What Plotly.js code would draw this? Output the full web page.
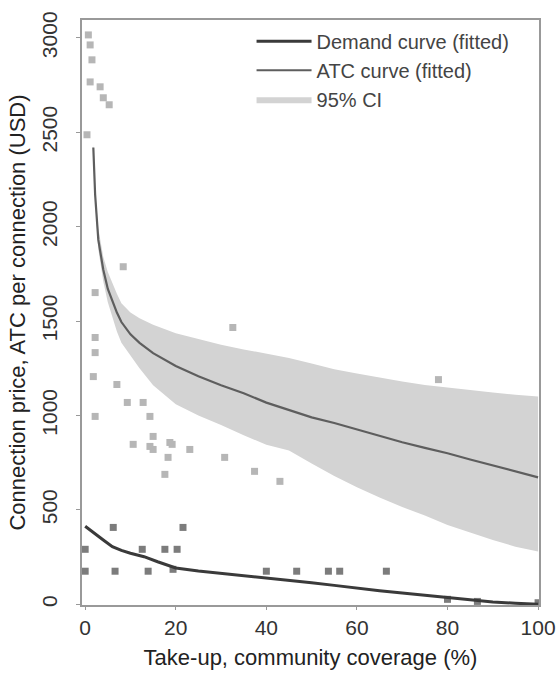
<!DOCTYPE html>
<html>
<head>
<meta charset="utf-8">
<script src="https://cdn.plot.ly/plotly-3.0.1.min.js"></script>
<style>
  html, body { margin: 0; padding: 0; background: #fff; }
  #chart { width: 556px; height: 681px; }
</style>
</head>
<body>
<div id="chart"></div>
<script>
// Fitted ATC (average total cost) curve, USD per connection vs take-up (%)
const atcX = [1.8, 2.2, 2.9, 4, 5, 6, 7, 8, 10, 12, 15, 20, 25, 30, 35, 40, 45, 50, 55, 60, 65, 70, 75, 80, 85, 90, 95, 100];
const atcY = [2420, 2170, 1930, 1772, 1670, 1605, 1545, 1495, 1430, 1385, 1330, 1262, 1208, 1160, 1118, 1068, 1030, 990, 960, 925, 890, 858, 828, 800, 767, 735, 705, 672];

// 95% confidence band around the ATC curve
const ciUpper = [2440, 2200, 1990, 1840, 1760, 1700, 1645, 1595, 1545, 1515, 1480, 1435, 1405, 1375, 1350, 1328, 1305, 1275, 1245, 1222, 1200, 1180, 1162, 1148, 1135, 1122, 1110, 1100];
const ciLower = [2400, 2140, 1880, 1710, 1600, 1520, 1445, 1385, 1320, 1250, 1160, 1060, 1000, 950, 895, 845, 815, 745, 680, 620, 565, 515, 470, 420, 380, 340, 305, 280];

// Fitted demand curve
const demandX = [0, 2, 4, 6, 8, 10, 13, 16, 20, 25, 30, 35, 40, 45, 50, 55, 60, 65, 70, 75, 80, 85, 90, 95, 100];
const demandY = [413, 375, 340, 305, 285, 270, 252, 225, 192, 176, 164, 153, 140, 128, 114, 100, 85, 72, 60, 47, 35, 22, 12, 5, 0];

// Observed per-connection costs
const costX = [0.7, 1.1, 1.5, 1.1, 3.3, 4.0, 5.3, 0.4, 8.4, 2.2, 2.2, 2.2, 1.8, 7.0, 2.2, 9.3, 12.8, 14.3, 15.0, 10.6, 19.2, 14.3, 18.3, 23.1, 17.6, 30.8, 37.4, 43.0, 32.6, 78.0, 15.0, 18.7];
const costY = [3016, 2963, 2884, 2767, 2741, 2683, 2646, 2487, 1788, 1651, 1413, 1333, 1206, 1164, 995, 1069, 1069, 995, 889, 847, 847, 836, 778, 820, 688, 778, 704, 651, 1466, 1190, 820, 857];

// Observed connection prices (willingness to pay)
const priceX = [6.2, 21.6, 0, 12.6, 17.6, 20.3, 0, 6.6, 13.9, 19.4, 40.0, 46.7, 53.7, 56.2, 66.5, 80.0, 86.6, 100];
const priceY = [407, 407, 291, 291, 291, 291, 175, 175, 175, 185, 175, 175, 175, 175, 175, 26, 15, 8];

const font = "Liberation Sans, Arial, sans-serif";

const traces = [
  {
    x: atcX, y: ciLower, type: 'scatter', mode: 'lines',
    line: { width: 0, color: 'rgba(0,0,0,0)' },
    showlegend: false, hoverinfo: 'skip'
  },
  {
    x: atcX, y: ciUpper, type: 'scatter', mode: 'lines',
    fill: 'tonexty', fillcolor: '#d3d3d3',
    line: { width: 0, color: 'rgba(0,0,0,0)' },
    name: '95% CI', legendrank: 3, legendgroup: 'c'
  },
  {
    x: costX, y: costY, type: 'scatter', mode: 'markers',
    marker: { symbol: 'square', size: 7, color: '#b6b6b6' },
    showlegend: false
  },
  {
    x: priceX, y: priceY, type: 'scatter', mode: 'markers',
    marker: { symbol: 'square', size: 7, color: '#7c7c7c' },
    showlegend: false
  },
  {
    x: atcX, y: atcY, type: 'scatter', mode: 'lines',
    line: { color: '#5e5e5e', width: 2.2 },
    name: 'ATC curve (fitted)', legendrank: 2, legendgroup: 'b'
  },
  {
    x: demandX, y: demandY, type: 'scatter', mode: 'lines',
    line: { color: '#3a3a3a', width: 3 },
    name: 'Demand curve (fitted)', legendrank: 1, legendgroup: 'a'
  }
];

const layout = {
  width: 556, height: 681,
  margin: { l: 82, r: 17, t: 20, b: 76 },
  paper_bgcolor: '#fff', plot_bgcolor: '#fff',
  font: { family: font, size: 20, color: '#333' },
  showlegend: true,
  legend: {
    x: 0.371, y: 0.997, xanchor: 'left', yanchor: 'top',
    bgcolor: 'rgba(0,0,0,0)', font: { size: 20, color: '#444' },
    traceorder: 'grouped', tracegroupgap: 0, itemwidth: 55
  },
  xaxis: {
    range: [-0.7, 100.2],
    tickvals: [0, 20, 40, 60, 80, 100],
    ticks: 'outside', ticklen: 3, tickcolor: '#999',
    ticklabelstandoff: 0,
    showline: true, linecolor: '#999', linewidth: 2, mirror: true,
    showgrid: false, zeroline: false,
    tickfont: { size: 21, color: '#333' },
    title: { text: 'Take-up, community coverage (%)', font: { size: 22, color: '#222' }, standoff: 11 }
  },
  yaxis: {
    range: [-4, 3095],
    tickvals: [0, 500, 1000, 1500, 2000, 2500, 3000],
    tickangle: -90,
    ticks: 'outside', ticklen: 4, tickcolor: '#999',
    ticklabelstandoff: 11,
    showline: true, linecolor: '#999', linewidth: 2, mirror: true,
    showgrid: false, zeroline: false,
    tickfont: { size: 21, color: '#333' },
    title: { text: 'Connection price, ATC per connection (USD)', font: { size: 22, color: '#222' }, standoff: 6 }
  }
};

Plotly.newPlot('chart', traces, layout, { staticPlot: true, displayModeBar: false });
</script>
</body>
</html>
